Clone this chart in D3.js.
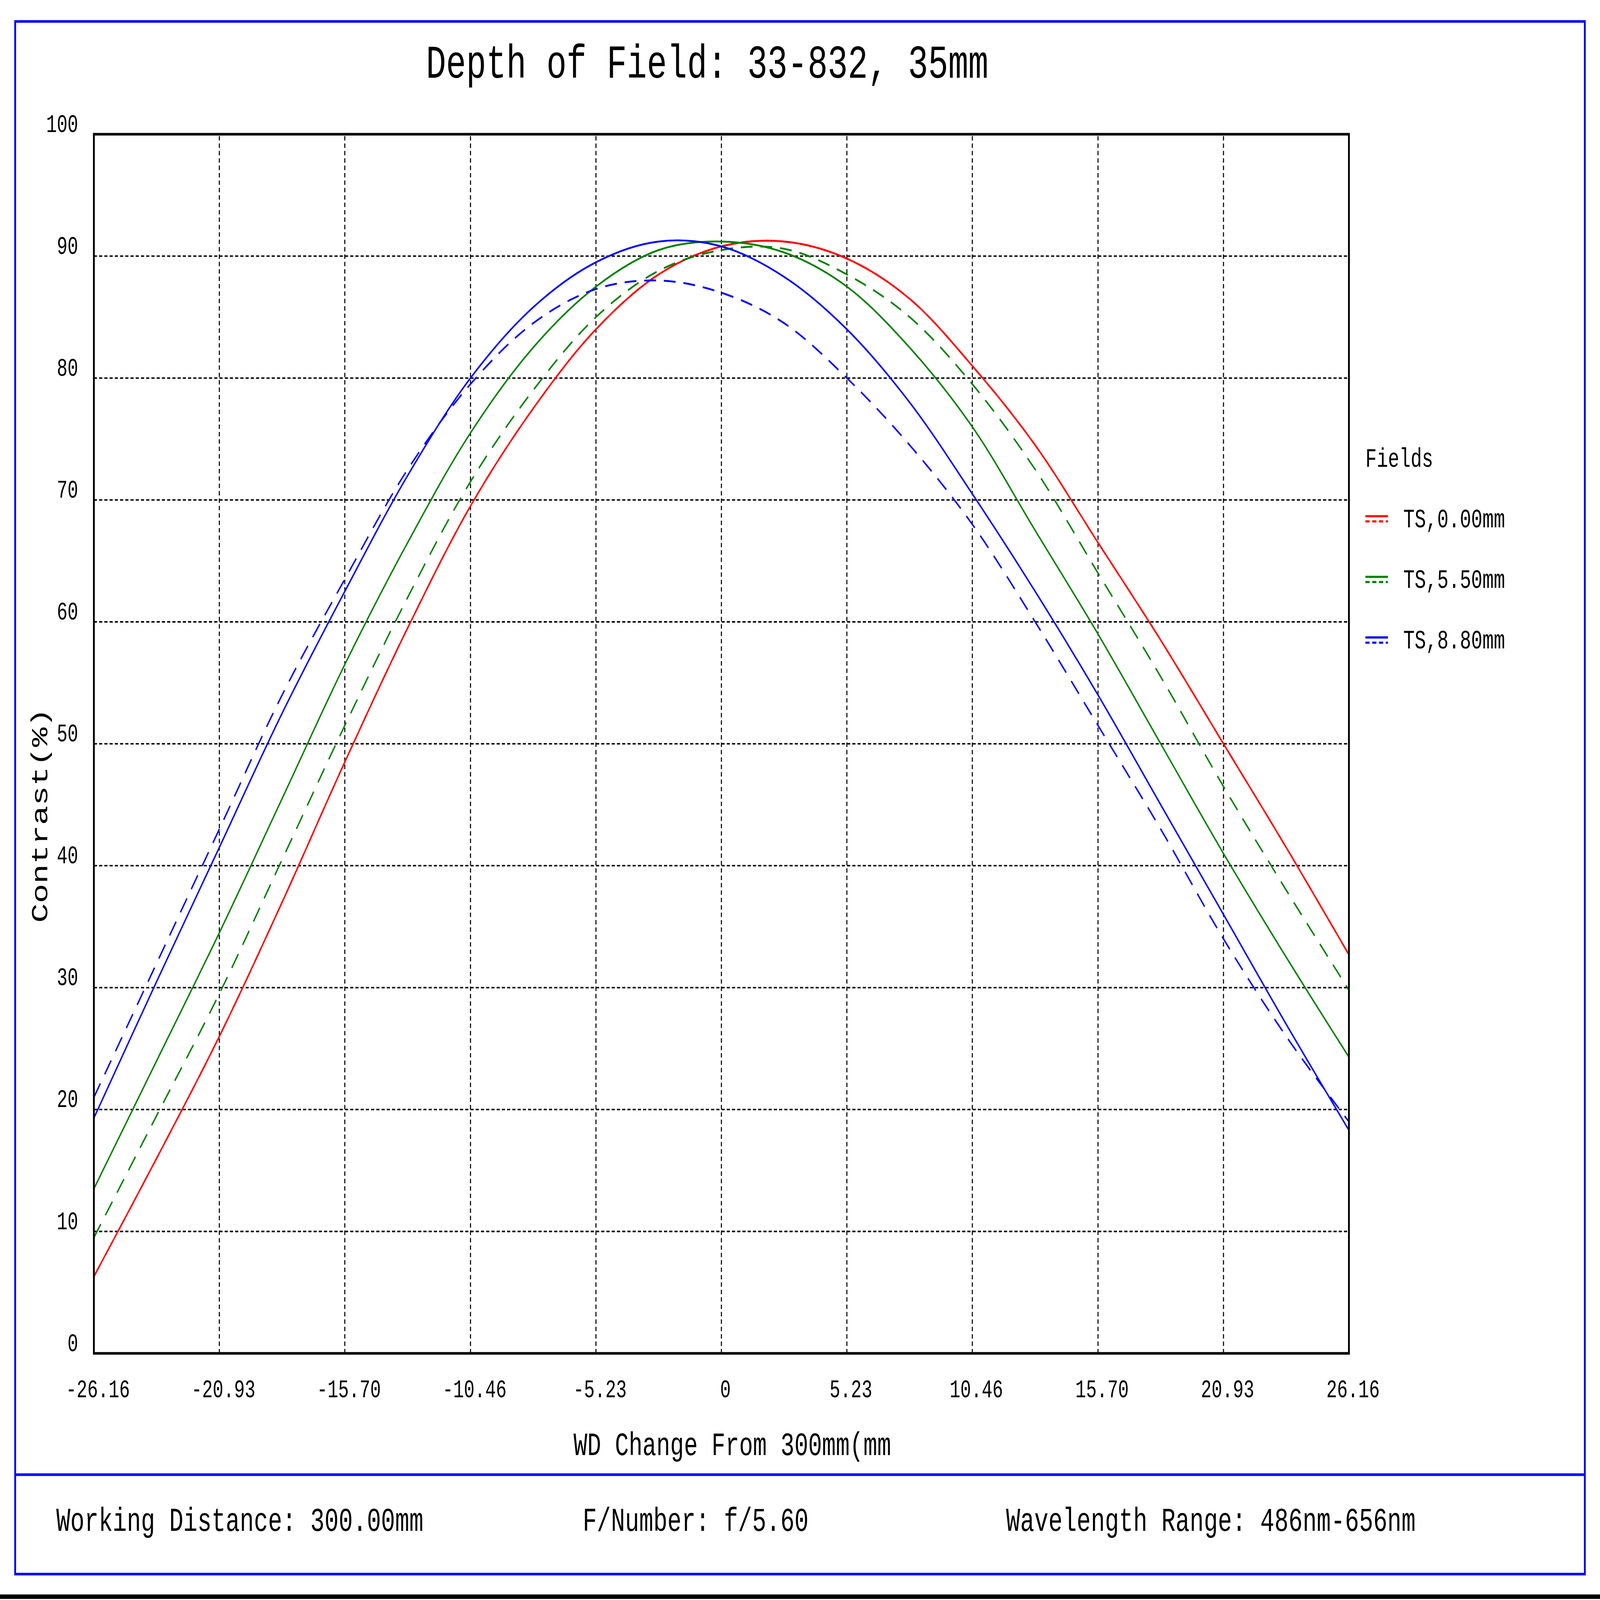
<!DOCTYPE html>
<html>
<head>
<meta charset="utf-8">
<script src="https://cdn.jsdelivr.net/npm/d3@7"></script>
<style>
  html, body { margin: 0; padding: 0; background: #fff; overflow: hidden; }
  svg { display: block; width: 100vw; height: 100vh; }
  text { font-family: "Liberation Mono", "DejaVu Sans Mono", monospace; fill: #000; }
</style>
</head>
<body>
<div id="chart"></div>
<script>
// x positions sampled (mm change in WD)
const xTicks = [-26.16, -20.93, -15.70, -10.46, -5.23, 0, 5.23, 10.46, 15.70, 20.93, 26.16];
const xTickLabels = ["-26.16", "-20.93", "-15.70", "-10.46", "-5.23", "0", "5.23", "10.46", "15.70", "20.93", "26.16"];
const yTicks = [0, 10, 20, 30, 40, 50, 60, 70, 80, 90, 100];
const xSamples = [-26.16, -23.544, -20.93, -18.314, -15.70, -13.08, -10.46, -7.848, -5.23, -2.616, 0,
  2.616, 5.23, 7.848, 10.46, 13.08, 15.70, 18.314, 20.93, 23.544, 26.16];

const red_T = [6.3, 16, 26, 37, 48.5, 59.5, 69.5, 77.5, 84, 88.5, 90.8, 91.2, 89.8, 86.5, 81, 74.5, 66.5, 58.5, 50, 41.5, 32.7];
const red_S = red_T;
const green_T = [13.5, 24, 34.5, 45.5, 56.5, 66.5, 75.5, 82.5, 87.5, 90.5, 91.2, 90.3, 87.5, 82.5, 76, 67.5, 59, 50, 41, 32.5, 24.3];
const green_S = [9.5, 19.5, 29.5, 40.5, 51.5, 62, 71.5, 79, 85, 88.8, 90.5, 90.6, 88.5, 85, 79.5, 72.5, 64, 55.5, 46.5, 38, 29.8];
const blue_T = [19.3, 30.5, 41.5, 52.5, 62.5, 72, 80, 85.8, 89.5, 91.2, 90.8, 88.3, 84, 78, 70.5, 62.5, 54, 45, 36, 27, 18.3];
const blue_S = [21, 32, 43, 54, 63.5, 72.5, 79.5, 84.5, 87.3, 88, 87, 84.5, 80, 74.5, 68, 60, 51.5, 43, 34, 26, 19];

const fieldNames = ["TS,0.00mm", "TS,5.50mm", "TS,8.80mm"];
const fieldColors = ["#ff0000", "#008000", "#0000ff"];

const W = 6118, H = 4327;
const margin = { top: 363, right: 960, bottom: 667, left: 359 };

// drawn in a fixed 6118x4327 coordinate space, stretched to the window
const svg = d3.select("#chart").append("svg")
  .attr("viewBox", `0 0 ${W} ${H}`)
  .attr("preserveAspectRatio", "none");

svg.append("rect").attr("width", W).attr("height", H).attr("fill", "#fff");

// outer blue frame + divider
svg.append("rect").attr("x", 58).attr("y", 58).attr("width", 6002).attr("height", 4199)
  .attr("fill", "none").attr("stroke", "#0000ff").attr("stroke-width", 7);
svg.append("line").attr("x1", 58).attr("x2", 6060).attr("y1", 3988).attr("y2", 3988)
  .attr("stroke", "#0000ff").attr("stroke-width", 7);
svg.append("line").attr("x1", 0).attr("x2", W).attr("y1", 4318).attr("y2", 4318)
  .attr("stroke", "#000").attr("stroke-width", 12);

const x = d3.scaleLinear().domain([-26.16, 26.16]).range([margin.left, W - margin.right]);
const y = d3.scaleLinear().domain([0, 100]).range([H - margin.bottom, margin.top]);

// grid
svg.append("g").selectAll("line").data(xTicks.slice(1, -1)).enter().append("line")
  .attr("x1", d => x(d)).attr("x2", d => x(d))
  .attr("y1", y(0)).attr("y2", y(100))
  .attr("stroke", "#000").attr("stroke-width", 4).attr("stroke-dasharray", "12,8");
svg.append("g").selectAll("line").data(yTicks.slice(1, -1)).enter().append("line")
  .attr("x1", x(-26.16)).attr("x2", x(26.16))
  .attr("y1", d => y(d)).attr("y2", d => y(d))
  .attr("stroke", "#000").attr("stroke-width", 4).attr("stroke-dasharray", "12,8");

// axes labels via d3 axes
const xAxis = svg.append("g").attr("transform", `translate(0,${y(0)})`)
  .call(d3.axisBottom(x).tickValues(xTicks).tickFormat((d, i) => xTickLabels[i]).tickSize(0).tickPadding(70));
xAxis.select(".domain").remove();
xAxis.selectAll("text").style("font-size", "68px").attr("dx", "15px");

const yAxis = svg.append("g").attr("transform", `translate(${x(-26.16)},0)`)
  .call(d3.axisLeft(y).tickValues(yTicks).tickSize(0).tickPadding(60));
yAxis.select(".domain").remove();
yAxis.selectAll("text").style("font-size", "68px").attr("dy", "-0.1em");

// series
const line = d3.line().x((d, i) => x(xSamples[i])).y(d => y(d)).curve(d3.curveCatmullRom);
const series = [
  { v: red_S, c: 0, dash: "45,30" }, { v: red_T, c: 0, dash: null },
  { v: green_S, c: 1, dash: "45,30" }, { v: green_T, c: 1, dash: null },
  { v: blue_S, c: 2, dash: "45,30" }, { v: blue_T, c: 2, dash: null }
];
svg.append("g").selectAll("path").data(series).enter().append("path")
  .attr("d", d => line(d.v))
  .attr("fill", "none")
  .attr("stroke", d => fieldColors[d.c])
  .attr("stroke-width", 5)
  .attr("stroke-dasharray", d => d.dash);

// plot frame
svg.append("rect").attr("x", x(-26.16)).attr("y", y(100))
  .attr("width", x(26.16) - x(-26.16)).attr("height", y(0) - y(100))
  .attr("fill", "none").attr("stroke", "#000").attr("stroke-width", 7);

// titles
svg.append("text").attr("x", 2704).attr("y", 210).attr("text-anchor", "middle")
  .style("font-size", "128px").text("Depth of Field: 33-832, 35mm");
svg.append("text").attr("x", 2800).attr("y", 3935).attr("text-anchor", "middle")
  .style("font-size", "88px").text("WD Change From 300mm(mm");
svg.append("text").attr("transform", "translate(180,2205) rotate(-90)").attr("text-anchor", "middle")
  .style("font-size", "88px").text("Contrast(%)");

// legend
svg.append("text").attr("x", 5221).attr("y", 1262).style("font-size", "72px").text("Fields");
const leg = svg.append("g").selectAll("g").data(fieldNames).enter().append("g")
  .attr("transform", (d, i) => `translate(5221,${1396 + i * 164})`);
leg.append("line").attr("x1", 0).attr("x2", 86).attr("y1", 0).attr("y2", 0)
  .attr("stroke", (d, i) => fieldColors[i]).attr("stroke-width", 6);
leg.append("line").attr("x1", 0).attr("x2", 86).attr("y1", 14).attr("y2", 14)
  .attr("stroke", (d, i) => fieldColors[i]).attr("stroke-width", 6).attr("stroke-dasharray", "16,10");
leg.append("text").attr("x", 145).attr("y", 30).style("font-size", "72px").text(d => d);

// footer
const footer = [["Working Distance: 300.00mm", 215], ["F/Number: f/5.60", 2228], ["Wavelength Range: 486nm-656nm", 3847]];
svg.append("g").selectAll("text").data(footer).enter().append("text")
  .attr("x", d => d[1]).attr("y", 4140).style("font-size", "90px").text(d => d[0]);
</script>
</body>
</html>
